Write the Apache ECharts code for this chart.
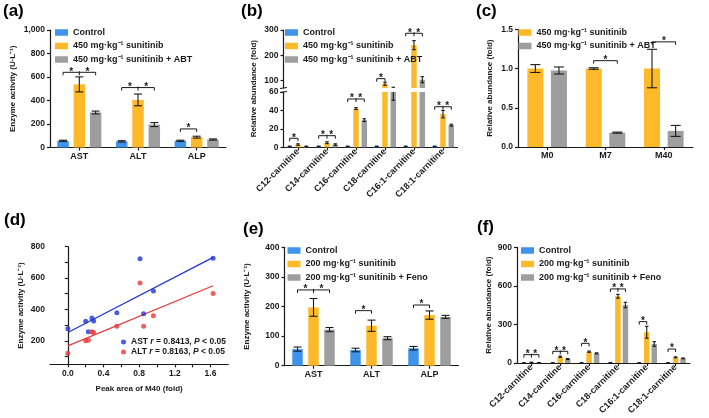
<!DOCTYPE html>
<html><head><meta charset="utf-8">
<script src="https://cdn.jsdelivr.net/npm/echarts@6/dist/echarts.min.js"></script>
<style>html,body{margin:0;padding:0;background:#fff}#c{width:709px;height:418px}</style>
</head><body><div id="c"></div>
<script>
// ================= DATA =================
// (a)
const catsA = ['AST', 'ALT', 'ALP'];
const aControl = [57, 52, 57];
const aControlSd = [5, 6, 5];
const aSun450 = [537, 405, 88];
const aSun450Sd = [64, 50, 8];
const aAbt = [298, 195, 68];
const aAbtSd = [12, 17, 5];
const aBrackets = [[0, 640, 2], [1, 510, 2], [2, 158, 1]];

// (b)
const catsB = ['C12-carnitine', 'C14-carnitine', 'C16-carnitine', 'C18-carnitine', 'C16:1-carnitine', 'C18:1-carnitine'];
const bControl = [1, 1, 1, 1, 1, 1];
const bControlSd = [0.3, 0.3, 0.3, 0.3, 0.3, 0.3];
const bSun450 = [3, 5, 42, 87, 240, 36];
const bSun450Sd = [0.8, 1, 1, 6, 18, 4];
const bAbt = [1, 3, 29.5, 62, 103, 24];
const bAbtSd = [0.3, 0.8, 1.5, 11, 12, 1];
const bBrackets = [[0, 9.8, 1], [1, 12.6, 2], [2, 52.4, 2], [3, 107, 1], [4, 287, 2], [5, 44, 2]];
const bTicksHigh = [100, 200, 300];

// (c)
const catsC = ['M0', 'M7', 'M40'];
const cSun450 = [1.0, 1.0, 1.0];
const cSun450Sd = [0.05, 0.01, 0.245];
const cAbt = [0.975, 0.183, 0.205];
const cAbtSd = [0.045, 0.007, 0.07];
const cBrackets = [[1, 1.1, 1], [2, 1.34, 1]];

// (d)
const dM40 = [0, 0.2, 0.23, 0.27, 0.29, 0.55, 0.81, 0.85, 0.96, 1.63];
const dAST = [277, 325, 257, 345, 326, 379, 723, 372, 517, 726];
const dALT = [121, 200, 204, 257, 253, 292, 568, 292, 360, 502];
const dFitX = [0, 1.63];
const dAstFit = [253, 732];
const dAltFit = [168, 551];
const dStats = { AST: ['0.8413', '0.05'], ALT: ['0.8163', '0.05'] };
const dXLabels = [0, 0.4, 0.8, 1.2, 1.6];
const dXTicks = [0, 0.2, 0.4, 0.6, 0.8, 1.0, 1.2, 1.4, 1.6];
const dYLabels = [200, 400, 600, 800];
const dYTicks = [100, 200, 300, 400, 500, 600, 700, 800];

// (e)
const catsE = ['AST', 'ALT', 'ALP'];
const eControl = [56, 53, 59];
const eControlSd = [7, 6, 6];
const eSun200 = [197, 135, 171];
const eSun200Sd = [30, 19, 14];
const eFeno = [122, 93, 165];
const eFenoSd = [7, 5, 5];
const eBrackets = [[0, 256, 2], [1, 186, 1], [2, 205, 1]];

// (f)
const catsF = catsB;
const fControl = [1, 1, 1, 2, 1, 1];
const fControlSd = [0.5, 0.5, 0.5, 0.5, 0.5, 0.5];
const fSun200 = [5, 49, 88, 519, 239, 44];
const fSun200Sd = [1.5, 5, 5, 15, 46, 4];
const fFeno = [3, 31, 75, 451, 148, 36];
const fFenoSd = [1, 4, 4, 21, 18, 3];
const fBrackets = [[0, 65, 2], [1, 91, 2], [2, 153, 1], [3, 576, 2], [4, 322, 1], [5, 109, 1]];

const N450 = ['Control', '450 mg·kg⁻¹ sunitinib', '450 mg·kg⁻¹ sunitinib + ABT'];
const N200 = ['Control', '200 mg·kg⁻¹ sunitinib', '200 mg·kg⁻¹ sunitinib + Feno'];

// ================= STYLE =================
const FF = '"Liberation Sans", Arial, sans-serif';
const INK = '#1a1a1a';
const BLUE = '#3f93ea', ORANGE = '#fdb92a', GRAY = '#9e9e9e';
const DBLUE = '#2236d8', DRED = '#e63a3a';

const grids = [
  { left: 50, top: 30, width: 176, height: 117.5 },        // 0 a
  { left: 283.5, top: 92, width: 174, height: 55.3 },      // 1 b low
  { left: 283.5, top: 30, width: 174, height: 58 },        // 2 b high
  { left: 518, top: 29.3, width: 175, height: 117.7 },     // 3 c
  { left: 50, top: 246.7, width: 178.3, height: 117.6 },   // 4 d
  { left: 284.5, top: 247.3, width: 174, height: 118.4 },  // 5 e
  { left: 517, top: 247.3, width: 173, height: 115.7 }     // 6 f
];

const axLine = { show: true, lineStyle: { color: INK, width: 1.2 } };
const axTick = { show: true, length: 3, lineStyle: { color: INK, width: 1.2 } };
const lbl = { color: INK, fontSize: 8.5, fontWeight: 'bold', fontFamily: FF };
const nameStyle = { color: INK, fontSize: 8, fontWeight: 'bold', fontFamily: FF };

function catX(gi, cats, rotate, show) {
  return {
    type: 'category', gridIndex: gi, data: cats, show: show !== false,
    axisLine: axLine, axisTick: Object.assign({ alignWithLabel: true }, axTick),
    axisLabel: Object.assign({}, lbl, { margin: rotate ? 3 : 4.5, rotate: rotate || 0, fontSize: 9 }),
    splitLine: { show: false }
  };
}
function valY(gi, o) {
  return Object.assign({
    type: 'value', gridIndex: gi, axisLine: axLine, axisTick: axTick,
    axisLabel: Object.assign({ margin: 5 }, lbl), splitLine: { show: false },
    nameLocation: 'middle', nameTextStyle: nameStyle
  }, o);
}

const xAxis = [
  catX(0, catsA),
  catX(1, catsB, 45),
  catX(2, catsB, 0, false),
  catX(3, catsC),
  {
    type: 'value', gridIndex: 4, min: -0.2, max: 1.8, interval: 0.2,
    axisLine: axLine,
    axisTick: Object.assign({ customValues: dXTicks }, axTick),
    axisLabel: Object.assign({ margin: 5, customValues: dXLabels, formatter: v => v.toFixed(1) }, lbl),
    splitLine: { show: false },
    name: 'Peak area of M40 (fold)', nameLocation: 'middle', nameGap: 20, nameTextStyle: nameStyle
  },
  catX(5, catsE),
  catX(6, catsF, 45)
];

const yAxis = [
  valY(0, { min: 0, max: 1000, interval: 200, name: 'Enzyme activity (U·L⁻¹)', nameGap: 33,
    axisLabel: Object.assign({ margin: 5, formatter: v => v.toLocaleString('en-US') }, lbl) }),
  valY(1, { min: 0, max: 60, interval: 20 }),
  valY(2, { min: 70, max: 300,
    axisLabel: Object.assign({ margin: 5, customValues: bTicksHigh }, lbl),
    axisTick: Object.assign({ customValues: bTicksHigh }, axTick) }),
  valY(3, { min: 0, max: 1.5, interval: 0.5, name: 'Relative abundance (fold)', nameGap: 24,
    axisLabel: Object.assign({ margin: 5, formatter: v => v.toFixed(1) }, lbl) }),
  valY(4, { min: 50, max: 800, name: 'Enzyme activity (U·L⁻¹)', nameGap: 25,
    axisLabel: Object.assign({ margin: 5, customValues: dYLabels }, lbl),
    axisTick: Object.assign({ customValues: dYTicks }, axTick) }),
  valY(5, { min: 0, max: 400, interval: 100, name: 'Enzyme activity (U·L⁻¹)', nameGap: 34 }),
  valY(6, { min: 0, max: 900, interval: 300, name: 'Relative abundance (fold)', nameGap: 24 })
];

const series = [];

function addPanel(gi, names, vals, sds, colors, bw, gapPx, capW, range, brackets) {
  const n = vals.length, step = bw + gapPx;
  vals.forEach((v, i) => {
    series.push({
      type: 'bar', name: names[i], xAxisIndex: gi, yAxisIndex: gi, data: v,
      barWidth: bw, barGap: (gapPx / bw * 100) + '%', itemStyle: { color: colors[i] }, silent: true
    });
  });
  vals.forEach((v, i) => {
    const off = (i - (n - 1) / 2) * step;
    series.push({
      type: 'custom', name: 'err-' + gi + '-' + i, xAxisIndex: gi, yAxisIndex: gi, silent: true, z: 5,
      data: v.map((m, k) => [k, m, sds[i][k]]),
      renderItem: (p, api) => {
        const k = api.value(0), m = api.value(1), s = api.value(2);
        const lo = m - s, hi = m + s;
        const a = Math.max(lo, range[0]), b = Math.min(hi, range[1]);
        if (a > b) return null;
        const x = api.coord([k, range[0]])[0] + off;
        const ya = api.coord([k, a])[1], yb = api.coord([k, b])[1];
        const st = { stroke: INK, lineWidth: 1.1 };
        const ch = [{ type: 'line', shape: { x1: x, y1: ya, x2: x, y2: yb }, style: st }];
        if (lo >= range[0]) ch.push({ type: 'line', shape: { x1: x - capW / 2, y1: ya, x2: x + capW / 2, y2: ya }, style: st });
        if (hi <= range[1]) ch.push({ type: 'line', shape: { x1: x - capW / 2, y1: yb, x2: x + capW / 2, y2: yb }, style: st });
        return { type: 'group', children: ch };
      }
    });
  });
  if (brackets && brackets.length) {
    series.push({
      type: 'custom', name: 'sig-' + gi, xAxisIndex: gi, yAxisIndex: gi, silent: true, z: 6,
      data: brackets,
      renderItem: (p, api) => {
        const k = api.value(0), yv = api.value(1), t = api.value(2);
        const c = api.coord([k, yv]);
        const xs = [0, 1, 2].map(i => c[0] + (i - (n - 1) / 2) * step);
        const y = c[1], tl = 3;
        const st = { stroke: INK, lineWidth: 1 };
        const ch = [];
        const star = (x) => ({ type: 'text', style: { text: '*', x: x, y: y - 0.5, textAlign: 'center', textVerticalAlign: 'middle', fill: INK, font: 'bold 10px ' + FF } });
        const x0 = xs[0], x1 = t === 2 ? xs[2] : xs[1];
        ch.push({ type: 'line', shape: { x1: x0, y1: y, x2: x1, y2: y }, style: st });
        ch.push({ type: 'line', shape: { x1: x0, y1: y, x2: x0, y2: y + tl }, style: st });
        ch.push({ type: 'line', shape: { x1: x1, y1: y, x2: x1, y2: y + tl }, style: st });
        if (t === 2) {
          ch.push({ type: 'line', shape: { x1: xs[1], y1: y - 1, x2: xs[1], y2: y + tl }, style: st });
          ch.push(star((xs[0] + xs[1]) / 2));
          ch.push(star((xs[1] + xs[2]) / 2));
        } else {
          ch.push(star((x0 + x1) / 2));
        }
        return { type: 'group', children: ch };
      }
    });
  }
}

// (a)
addPanel(0, N450, [aControl, aSun450, aAbt], [aControlSd, aSun450Sd, aAbtSd], [BLUE, ORANGE, GRAY], 11.5, 4.8, 8, [0, 1000], aBrackets);
// (b) lower and upper segments of the broken axis
addPanel(1, N450, [bControl, bSun450, bAbt], [bControlSd, bSun450Sd, bAbtSd], [BLUE, ORANGE, GRAY], 5.5, 2.8, 3.5, [0, 60], bBrackets.filter(b => b[1] <= 60));
addPanel(2, N450, [bControl, bSun450, bAbt], [bControlSd, bSun450Sd, bAbtSd], [BLUE, ORANGE, GRAY], 5.5, 2.8, 3.5, [70, 300], bBrackets.filter(b => b[1] > 60));
// (c)
addPanel(3, N450.slice(1), [cSun450, cAbt], [cSun450Sd, cAbtSd], [ORANGE, GRAY], 16, 7.6, 10, [0, 1.5], cBrackets);
// (e)
addPanel(5, N200, [eControl, eSun200, eFeno], [eControlSd, eSun200Sd, eFenoSd], [BLUE, ORANGE, GRAY], 10.5, 5.5, 8, [0, 400], eBrackets);
// (f)
addPanel(6, N200, [fControl, fSun200, fFeno], [fControlSd, fSun200Sd, fFenoSd], [BLUE, ORANGE, GRAY], 5.5, 2, 3.5, [0, 900], fBrackets);

// axis-break marks for (b)
[[1, 'top'], [2, 'bottom']].forEach(([gi, side]) => {
  series.push({
    type: 'custom', name: 'brk-' + gi, xAxisIndex: gi, yAxisIndex: gi, silent: true, z: 7,
    data: [[0, gi === 1 ? 30 : 200]],
    renderItem: (p) => {
      const cs = p.coordSys;
      const y = side === 'top' ? cs.y : cs.y + cs.height;
      return { type: 'line', shape: { x1: cs.x - 3.5, y1: y + 0.5, x2: cs.x + 3.5, y2: y - 0.5 }, style: { stroke: INK, lineWidth: 1.2 } };
    }
  });
});

// (d)
series.push(
  { type: 'line', name: 'AST fit', xAxisIndex: 4, yAxisIndex: 4, data: dFitX.map((x, i) => [x, dAstFit[i]]), showSymbol: false, lineStyle: { color: DBLUE, width: 1.3 }, silent: true, z: 2 },
  { type: 'line', name: 'ALT fit', xAxisIndex: 4, yAxisIndex: 4, data: dFitX.map((x, i) => [x, dAltFit[i]]), showSymbol: false, lineStyle: { color: DRED, width: 1.3 }, silent: true, z: 2 },
  { type: 'scatter', name: 'AST', xAxisIndex: 4, yAxisIndex: 4, data: dM40.map((x, i) => [x, dAST[i]]), symbolSize: 5, itemStyle: { color: DBLUE }, silent: true, z: 3 },
  { type: 'scatter', name: 'ALT', xAxisIndex: 4, yAxisIndex: 4, data: dM40.map((x, i) => [x, dALT[i]]), symbolSize: 5, itemStyle: { color: DRED }, silent: true, z: 3 }
);

const legTxt = { color: INK, fontSize: 9, fontWeight: 'bold', fontFamily: FF, lineHeight: 10 };
function barLegend(left, top, data) {
  return { left: left, top: top, orient: 'vertical', icon: 'rect', itemWidth: 13, itemHeight: 6.5, itemGap: 3.5,
    selectedMode: false, data: data, textStyle: legTxt, padding: 0 };
}
const rich = {
  n: { color: INK, fontSize: 8.5, fontWeight: 'bold', fontFamily: FF },
  i: { color: INK, fontSize: 8.5, fontWeight: 'bold', fontStyle: 'italic', fontFamily: FF }
};

const legend = [
  barLegend(55, 27.5, N450),
  barLegend(285, 27.5, N450),
  barLegend(518.5, 27.5, N450.slice(1)),
  barLegend(287.5, 245.5, N200),
  barLegend(521, 245.5, N200),
  { left: 121, top: 337.5, orient: 'vertical', itemWidth: 5, itemHeight: 5, itemGap: 1, padding: 0, selectedMode: false,
    data: ['AST', 'ALT'],
    formatter: nm => '{n|' + nm + ' }{i|r}{n| = ' + dStats[nm][0] + ', }{i|P}{n| < ' + dStats[nm][1] + '}',
    textStyle: { rich: rich, lineHeight: 9 } }
];

const panelTitle = (t, x, y) => ({ type: 'text', left: x, top: y, style: { text: t, fill: '#000', font: 'bold 17px ' + FF } });
const graphic = [
  panelTitle('(a)', 3, 3), panelTitle('(b)', 241, 3), panelTitle('(c)', 476, 3),
  panelTitle('(d)', 4, 212), panelTitle('(e)', 243, 221), panelTitle('(f)', 477, 219),
  { type: 'text', x: 254, y: 88.7, rotation: Math.PI / 2,
    style: { text: 'Relative abundance (fold)', textAlign: 'center', textVerticalAlign: 'middle', fill: INK, font: 'bold 8px ' + FF } }
];

const chart = echarts.init(document.getElementById('c'), null, { renderer: 'canvas' });
chart.setOption({
  animation: false, backgroundColor: '#fff', tooltip: { show: false },
  grid: grids, xAxis: xAxis, yAxis: yAxis, series: series, legend: legend, graphic: graphic
});
</script></body></html>
